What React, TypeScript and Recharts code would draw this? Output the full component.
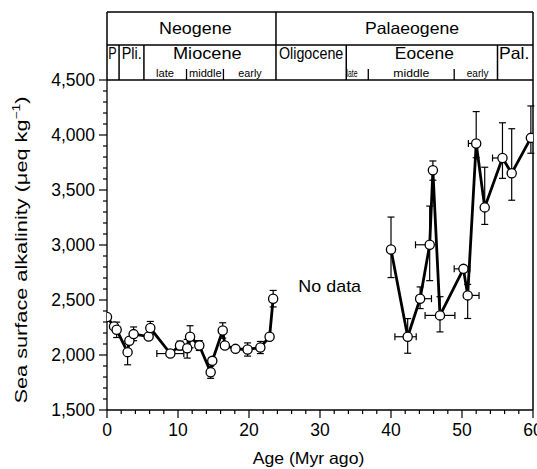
import React from "react";
import {
  ComposedChart,
  Line,
  Scatter,
  XAxis,
  YAxis,
  ErrorBar,
  ReferenceLine,
  ReferenceDot,
  Label,
} from "recharts";

const FONT = "'Liberation Sans', Arial, Helvetica, sans-serif";

// Neogene samples (age in Myr, alkalinity in µeq/kg)
const neoAge = [0, 0.99, 1.36, 2.9, 3.15, 3.75, 5.86, 6.1, 8.92, 10.28, 11.3, 11.7, 13.0, 14.6, 14.83, 16.3, 16.6, 18.1, 19.8, 21.6, 22.9, 23.4];
const neoAlk = [2345, 2260, 2229, 2026, 2129, 2190, 2168, 2245, 2013, 2086, 2062, 2166, 2086, 1843, 1947, 2223, 2086, 2056, 2050, 2068, 2166, 2512];
const neoErrY: (number | number[])[] = [0, 0, [70, 70], [115, 100], 0, [60, 65], 0, [60, 60], 0, [40, 40], [90, 80], [100, 100], [45, 45], [55, 55], 0, [70, 70], 0, 0, [60, 60], [55, 55], 0, [75, 75]];
const neoErrX: (number | number[])[] = [0, 0, 0, 0, 0, 0, 0, 0, [1.9, 1.9], 0, 0, 0, 0, 0, 0, 0, 0, 0, 0, 0, 0, 0];

// Palaeogene samples
const paleoAge = [40.0, 42.35, 44.1, 45.45, 45.9, 46.9, 50.2, 50.8, 52.0, 53.2, 55.7, 57.0, 59.7];
const paleoAlk = [2959, 2166, 2512, 3002, 3679, 2360, 2783, 2542, 3923, 3342, 3791, 3652, 3974];
const paleoErrY: (number | number[])[] = [[255, 295], [150, 165], [90, 107], [326, 352], [90, 85], [150, 170], [25, 25], [210, 100], [130, 290], [155, 365], [185, 320], [245, 405], [140, 290]];
const paleoErrX: (number | number[])[] = [0, [1.8, 1.2], [0.5, 1.6], [2.0, 0], 0, [2.1, 2.1], [1.3, 0.9], [0, 1.6], [1.1, 0], [0.3, 0.3], [1.4, 0], 0, 0];

const xTicks = [0, 2, 4, 6, 8, 10, 12, 14, 16, 18, 20, 22, 24, 26, 28, 30, 32, 34, 36, 38, 40, 42, 44, 46, 48, 50, 52, 54, 56, 58, 60];
const yTicks = [
  1500, 1600, 1700, 1800, 1900, 2000, 2100, 2200, 2300, 2400, 2500, 2600, 2700, 2800, 2900, 3000,
  3100, 3200, 3300, 3400, 3500, 3600, 3700, 3800, 3900, 4000, 4100, 4200, 4300, 4400, 4500,
];

// geological time scale header (boundaries in Myr)
const eraBounds = [23.8];
const epochBounds = [1.7, 5.2, 33.7, 55.0];
const stageBounds = [11.2, 16.4, 36.8, 48.9];
const eraNames = ["Neogene", "Palaeogene"];
const eraCentres = [12.44, 42.96];
const eraWidths = [72.7, 94];
const epochNames = ["P", "Pli.", "Miocene", "Oligocene", "Eocene", "Pal."];
const epochCentres = [0.77, 3.48, 14.13, 28.75, 44.7, 57.35];
const epochWidths = [8.4, 20, 68.7, 64.3, 59, 30.3];
const stageNames = ["late", "middle", "early", "late", "middle", "early"];
const stageCentres = [8.17, 13.85, 20.14, 34.5, 42.86, 52.2];
const stageWidths = [18, 32.7, 23.3, 11, 36, 21.7];

// header rows sit above the plot, in y-axis units
const HEAD_TOP = 5118;
const HEAD_MID = 4818;
const STAGE_TOP = 4600;
const ERA_Y = 4973;
const EPOCH_Y = 4741;
const STAGE_Y = 4558;

const neoData = neoAge.map((age, i) => ({ age, alk: neoAlk[i], ey: neoErrY[i], ex: neoErrX[i] }));
const paleoData = paleoAge.map((age, i) => ({ age, alk: paleoAlk[i], ey: paleoErrY[i], ex: paleoErrX[i] }));

const XTick = (props: any) => {
  const { x, y, payload } = props;
  const major = payload.value % 10 === 0;
  return (
    <g>
      <line x1={x} y1={y} x2={x} y2={y + (major ? 8 : 4)} stroke="#000" strokeWidth={1.2} />
      {major && (
        <text x={x} y={y + 26} textAnchor="middle" fontSize={17.5} fontFamily={FONT} fill="#000">
          {payload.value}
        </text>
      )}
    </g>
  );
};

const YTick = (props: any) => {
  const { x, y, payload } = props;
  const major = payload.value % 500 === 0;
  return (
    <g>
      <line x1={x - (major ? 8 : 4)} y1={y} x2={x} y2={y} stroke="#000" strokeWidth={1.2} />
      {major && (
        <text x={x - 12} y={y + 6} textAnchor="end" fontSize={17.5} fontFamily={FONT} fill="#000">
          {payload.value.toLocaleString("en-US")}
        </text>
      )}
    </g>
  );
};

const dot = (p: any) => <circle cx={p.cx} cy={p.cy} r={4.6} fill="#fff" stroke="#000" strokeWidth={1.3} />;

const seg = (x1: number, y1: number, x2: number, y2: number, key: string, w = 1.5) => (
  <ReferenceLine
    key={key}
    segment={[{ x: x1, y: y1 }, { x: x2, y: y2 }]}
    stroke="#000"
    strokeWidth={w}
    ifOverflow="visible"
  />
);

const textAt = (x: number, y: number, value: string, size: number, width: number, key: string) => (
  <ReferenceDot key={key} x={x} y={y} r={0} fill="none" stroke="none" ifOverflow="visible">
    <Label
      content={(p: any) => {
        const vb = p.viewBox || {};
        return (
          <text
            x={vb.x}
            y={vb.y + size * 0.355}
            textAnchor="middle"
            fontSize={size}
            fontFamily={FONT}
            fill="#000"
            textLength={width}
            lengthAdjust="spacingAndGlyphs"
          >
            {value}
          </text>
        );
      }}
    />
  </ReferenceDot>
);

export default function App() {
  return (
    <div style={{ position: "absolute", left: 0, top: 0 }}>
      <ComposedChart width={537} height={469} margin={{ top: 80, right: 4, bottom: 0, left: 0 }}>
        <XAxis
          type="number"
          dataKey="age"
          domain={[0, 60]}
          ticks={xTicks}
          interval={0}
          allowDataOverflow
          height={59}
          tickLine={false}
          tickSize={0}
          tickMargin={0}
          tick={<XTick />}
          axisLine={{ stroke: "#000", strokeWidth: 1.3 }}
        >
          <Label
            content={() => (
              <text
                x={308.5}
                y={464}
                textAnchor="middle"
                fontSize={16.5}
                fontFamily={FONT}
                fill="#000"
                textLength={111.7}
                lengthAdjust="spacingAndGlyphs"
              >
                Age (Myr ago)
              </text>
            )}
          />
        </XAxis>
        <YAxis
          type="number"
          dataKey="alk"
          domain={[1500, 4500]}
          ticks={yTicks}
          interval={0}
          allowDataOverflow
          width={107}
          tickLine={false}
          tickSize={0}
          tickMargin={0}
          tick={<YTick />}
          axisLine={{ stroke: "#000", strokeWidth: 1.3 }}
        >
          <Label
            content={() => (
              <text
                transform="translate(27,250) rotate(-90)"
                textAnchor="middle"
                fontSize={16.5}
                fontFamily={FONT}
                fill="#000"
                textLength={307}
                lengthAdjust="spacingAndGlyphs"
              >
                Sea surface alkalinity (μeq kg
                <tspan dy={-7} fontSize={10.5}>−1</tspan>
                <tspan dy={7}>)</tspan>
              </text>
            )}
          />
        </YAxis>

        {/* header frame */}
        {seg(0, HEAD_TOP, 60, HEAD_TOP, "top")}
        {seg(0, HEAD_MID, 60, HEAD_MID, "mid")}
        {seg(0, 4500, 60, 4500, "bottom")}
        {seg(0, 4500, 0, HEAD_TOP, "left")}
        {seg(60, 1500, 60, HEAD_TOP, "right")}
        {eraBounds.map((b, i) => seg(b, 4500, b, HEAD_TOP, `era${i}`))}
        {epochBounds.map((b, i) => seg(b, 4500, b, HEAD_MID, `ep${i}`))}
        {stageBounds.map((b, i) => seg(b, 4500, b, STAGE_TOP, `st${i}`, 1.3))}
        {eraNames.map((n, i) => textAt(eraCentres[i], ERA_Y, n, 16.5, eraWidths[i], `en${i}`))}
        {epochNames.map((n, i) => textAt(epochCentres[i], EPOCH_Y, n, 16.5, epochWidths[i], `epn${i}`))}
        {stageNames.map((n, i) => textAt(stageCentres[i], STAGE_Y, n, 10.5, stageWidths[i], `stn${i}`))}
        {textAt(31.37, 2627, "No data", 17, 62.7, "nodata")}

        <Line data={neoData} dataKey="alk" stroke="#000" strokeWidth={2.8} dot={false} isAnimationActive={false} />
        <Line data={paleoData} dataKey="alk" stroke="#000" strokeWidth={2.8} dot={false} isAnimationActive={false} />
        <Scatter data={neoData} dataKey="alk" shape={dot} isAnimationActive={false}>
          <ErrorBar dataKey="ey" direction="y" width={3.5} stroke="#000" strokeWidth={1.2} isAnimationActive={false} />
          <ErrorBar dataKey="ex" direction="x" width={3.5} stroke="#000" strokeWidth={1.2} isAnimationActive={false} />
        </Scatter>
        <Scatter data={paleoData} dataKey="alk" shape={dot} isAnimationActive={false}>
          <ErrorBar dataKey="ey" direction="y" width={3.5} stroke="#000" strokeWidth={1.2} isAnimationActive={false} />
          <ErrorBar dataKey="ex" direction="x" width={3.5} stroke="#000" strokeWidth={1.2} isAnimationActive={false} />
        </Scatter>
      </ComposedChart>
    </div>
  );
}
